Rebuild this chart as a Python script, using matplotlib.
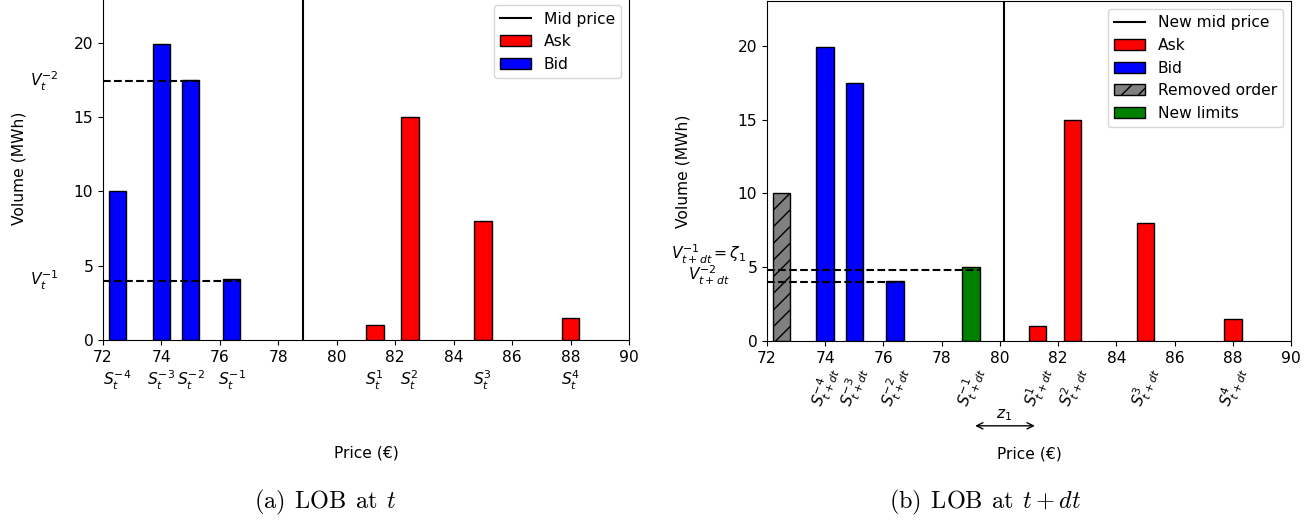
import numpy as np
import matplotlib.pyplot as plt

# Libro de órdenes en t
precios_bid = [72.5, 74, 75, 76.4]
volumen_bid = [10, 19.9, 17.5, 4.1]
precios_ask = [81.3, 82.5, 85, 88]
volumen_ask = [1, 15, 8, 1.5]

# Libro de órdenes en t + dt
precios_bid_dt = [74, 75, 76.4]
volumen_bid_dt = [19.9, 17.5, 4.1]
precio_retirado = [72.5]
volumen_retirado = [10]
precio_nuevo = [79]
volumen_nuevo = [5]

# Niveles de volumen marcados con líneas discontinuas
niveles_t = [17.4, 4.0]
fin_niveles_t = [75.3, 76.7]
niveles_dt = [4.8, 4.0]
fin_niveles_dt = [79.3, 76.7]

etiquetas_t = [r"$S_t^{-4}$", r"$S_t^{-3}$", r"$S_t^{-2}$", r"$S_t^{-1}$",
               r"$S_t^{1}$", r"$S_t^{2}$", r"$S_t^{3}$", r"$S_t^{4}$"]
precios_dt = [74, 75, 76.4, 79, 81.3, 82.5, 85, 88]
etiquetas_dt = [r"$S_{t+dt}^{-4}$", r"$S_{t+dt}^{-3}$", r"$S_{t+dt}^{-2}$", r"$S_{t+dt}^{-1}$",
                r"$S_{t+dt}^{1}$", r"$S_{t+dt}^{2}$", r"$S_{t+dt}^{3}$", r"$S_{t+dt}^{4}$"]

mid_t = (max(precios_bid) + min(precios_ask)) / 2
mid_dt = (max(precio_nuevo) + min(precios_ask)) / 2

ancho = 0.6

plt.rcParams["font.size"] = 11.2

fig = plt.figure(figsize=(13.15, 5.2), dpi=100)
ax1 = fig.add_axes([103 / 1315, 1 - 340 / 520, 526 / 1315, 342.5 / 520])
ax2 = fig.add_axes([767 / 1315, 1 - 341 / 520, 524 / 1315, 340 / 520])


def preparar_ejes(ax):
    ax.set_xlim(72, 90)
    ax.set_ylim(0, 23.05)
    ax.set_xticks(np.arange(72, 91, 2))
    ax.set_yticks([0, 5, 10, 15, 20])
    ax.set_xlabel("Price (€)", labelpad=58)
    ax.set_ylabel("Volume (MWh)", labelpad=34)


# Panel (a): LOB en t
ax1.axvline(mid_t, color="black", linewidth=1.5, label="Mid price")
ax1.bar(precios_ask, volumen_ask, width=ancho, color="red", edgecolor="black", label="Ask")
ax1.bar(precios_bid, volumen_bid, width=ancho, color="blue", edgecolor="black", label="Bid")
for y, xf in zip(niveles_t, fin_niveles_t):
    ax1.plot([72, xf], [y, y], "k--", linewidth=1.5, zorder=3)
preparar_ejes(ax1)
ax1.legend(loc="upper right")
ax1.text(70, niveles_t[0], r"$V_t^{-2}$", ha="center", va="center")
ax1.text(70, niveles_t[1], r"$V_t^{-1}$", ha="center", va="center")
for p, et in zip(precios_bid + precios_ask, etiquetas_t):
    ax1.annotate(et, xy=(p, 0), xycoords=("data", "axes fraction"), xytext=(0, -29),
                 textcoords="offset pixels", ha="center", va="top")

# Panel (b): LOB en t + dt
ax2.axvline(mid_dt, color="black", linewidth=1.5, label="New mid price")
ax2.bar(precios_ask, volumen_ask, width=ancho, color="red", edgecolor="black", label="Ask")
ax2.bar(precios_bid_dt, volumen_bid_dt, width=ancho, color="blue", edgecolor="black", label="Bid")
ax2.bar(precio_retirado, volumen_retirado, width=ancho, color="grey", edgecolor="black",
        hatch="//", label="Removed order")
ax2.bar(precio_nuevo, volumen_nuevo, width=ancho, color="green", edgecolor="black", label="New limits")
for y, xf in zip(niveles_dt, fin_niveles_dt):
    ax2.plot([72, xf], [y, y], "k--", linewidth=1.5, zorder=3)
preparar_ejes(ax2)
ax2.legend(loc="upper right")
ax2.text(70, 5.9, r"$V_{t+dt}^{-1} = \zeta_1$", ha="center", va="center")
ax2.text(70, 4.45, r"$V_{t+dt}^{-2}$", ha="center", va="center")
for p, et in zip(precios_dt, etiquetas_dt):
    ax2.annotate(et, xy=(p, 0), xycoords=("data", "axes fraction"), xytext=(0, -23),
                 textcoords="offset pixels", ha="center", va="top", rotation=70)

# Flecha del salto z_1 entre los dos límites
ax2.annotate("", xy=(79.15, -5.75), xytext=(81.2, -5.75),
             arrowprops=dict(arrowstyle="<->", color="black", shrinkA=0, shrinkB=0),
             annotation_clip=False)
ax2.text(80.15, -5.05, r"$z_1$", ha="center", va="center", clip_on=False)

# Leyendas de las subfiguras
fig.text(325 / 1315, 1 - 508 / 520,
         r"$\mathrm{(a)}\;\,\mathrm{LOB}\;\,\mathrm{at}\;\,t$",
         ha="center", va="baseline", fontsize=17.5, math_fontfamily="cm")
fig.text(985.5 / 1315, 1 - 508 / 520,
         r"$\mathrm{(b)}\;\,\mathrm{LOB}\;\,\mathrm{at}\;\,t + dt$",
         ha="center", va="baseline", fontsize=17.5, math_fontfamily="cm")

plt.savefig("out.png", dpi=100)
plt.close()
